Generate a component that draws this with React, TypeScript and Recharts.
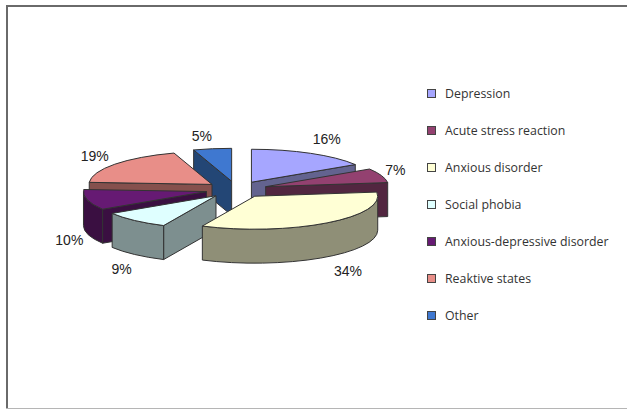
import React from "react";
import { PieChart, Pie, Legend } from "recharts";

const categories = ["Depression", "Acute stress reaction", "Anxious disorder", "Social phobia", "Anxious-depressive disorder", "Reaktive states", "Other"];
const shares = [16, 7, 34, 9, 10, 19, 5];
const topColors = ["#A6A6FF", "#934170", "#FFFFD5", "#DFFFFF", "#661A73", "#E88E88", "#3F78D0"];
const wallColors = ["#63638F", "#522640", "#8F8F77", "#7D8F8F", "#3A0F41", "#85504D", "#234675"];
// painter's order: back slices first
const drawOrder = [0, 6, 5, 1, 4, 3, 2];
const labelNudgeX = [16, 14, 21, -13, -18, -20, -10.5];
const labelNudgeY = [-14, -6, 48, 49, 40, -8, -13];

const rows = categories.map((name, i) => ({ name, value: shares[i], fill: topColors[i], wall: wallColors[i], idx: i }));

const CX = 236.5;
const CY = 189.5;
const R = 123;
const SQUASH = 0.268;
const EXPLODE = 31;
const DEPTH = 34;
const EDGE = "#333333";

function slice3D(props: any, layer: number) {
  const idx = props.payload?.idx ?? props.index;
  if (idx !== layer) return <g />;
  const { cx, cy, outerRadius: r, startAngle, endAngle } = props;
  const a0 = 90 - startAngle;
  const a1 = 90 - endAngle;
  const mid = ((a0 + a1) / 2) * Math.PI / 180;
  const ry = r * SQUASH;
  const ax = cx + EXPLODE * Math.sin(mid);
  const ay = cy - EXPLODE * SQUASH * Math.cos(mid);
  const pt = (deg: number, d = 0) => {
    const t = deg * Math.PI / 180;
    return [ax + r * Math.sin(t), ay - ry * Math.cos(t) + d];
  };
  const parts: React.ReactNode[] = [];
  const common = { stroke: EDGE, strokeWidth: 1, strokeLinejoin: "round" as const, fill: props.payload.wall };
  const side = (deg: number, key: string) => {
    const p = pt(deg);
    parts.push(<path key={key} {...common} d={`M${ax} ${ay}L${p[0]} ${p[1]}L${p[0]} ${p[1] + DEPTH}L${ax} ${ay + DEPTH}Z`} />);
  };
  if (Math.sin(a0 * Math.PI / 180) < -1e-6) side(a0, "s0");
  if (Math.sin(a1 * Math.PI / 180) > 1e-6) side(a1, "s1");
  const w0 = Math.max(a0, 90);
  const w1 = Math.min(a1, 270);
  if (w0 < w1) {
    const p = pt(w0);
    const q = pt(w1);
    parts.push(
      <path
        key="outer"
        {...common}
        d={`M${p[0]} ${p[1]}A${r} ${ry} 0 0 1 ${q[0]} ${q[1]}L${q[0]} ${q[1] + DEPTH}A${r} ${ry} 0 0 0 ${p[0]} ${p[1] + DEPTH}Z`}
      />
    );
  }
  const s = pt(a0);
  const e = pt(a1);
  const large = a1 - a0 > 180 ? 1 : 0;
  parts.push(
    <path
      key="top"
      stroke={EDGE}
      strokeWidth={1}
      strokeLinejoin="round"
      fill={props.payload.fill}
      d={`M${ax} ${ay}L${s[0]} ${s[1]}A${r} ${ry} 0 ${large} 1 ${e[0]} ${e[1]}Z`}
    />
  );
  return <g>{parts}</g>;
}

function percentLabel(props: any) {
  const { cx, cy, outerRadius: r, midAngle, value, index } = props;
  const t = (90 - midAngle) * Math.PI / 180;
  const reach = r + EXPLODE;
  const x = cx + reach * Math.sin(t) + labelNudgeX[index];
  const y = cy - reach * SQUASH * Math.cos(t) + labelNudgeY[index];
  return (
    <text x={x} y={y} textAnchor="middle" dominantBaseline="central" fontFamily="'Liberation Sans', Arial, sans-serif" fontSize={14} fill="#222">
      {`${value}%`}
    </text>
  );
}

function LegendList() {
  return (
    <div style={{ width: 200 }}>
      {categories.map((name, i) => (
        <div key={name} style={{ height: 37, display: "flex", alignItems: "center", fontFamily: "'Open Sans', sans-serif", fontSize: 12.35, color: "#333", whiteSpace: "nowrap" }}>
          <span style={{ display: "inline-block", width: 7, height: 7, background: topColors[i], border: "1px solid #444", marginRight: 9 }} />
          {name}
        </div>
      ))}
    </div>
  );
}

export default function App() {
  return (
    <div style={{ position: "absolute", left: 0, top: 0, width: 627, height: 409, background: "#fff", overflow: "hidden" }}>
      <div style={{ position: "absolute", left: 6, top: 5, width: 621, height: 2, background: "#6a6a6a" }} />
      <div style={{ position: "absolute", left: 6, top: 5, width: 2, height: 404, background: "#6a6a6a" }} />
      <div style={{ position: "absolute", left: 6, top: 408, width: 621, height: 1, background: "#b5b5b5" }} />
      <PieChart width={627} height={409} margin={{ top: 0, right: 0, bottom: 0, left: 0 }}>
        {drawOrder.map((layer, n) => (
          <Pie
            key={layer}
            data={rows}
            dataKey="value"
            nameKey="name"
            cx={CX}
            cy={CY}
            outerRadius={R}
            startAngle={90}
            endAngle={-270}
            isAnimationActive={false}
            legendType="none"
            labelLine={false}
            label={n === drawOrder.length - 1 ? percentLabel : false}
            shape={(p: any) => slice3D(p, layer)}
          />
        ))}
        <Legend
          layout="vertical"
          content={<LegendList />}
          wrapperStyle={{ position: "absolute", left: 427, top: 75, width: 200, margin: 0 }}
        />
      </PieChart>
    </div>
  );
}
